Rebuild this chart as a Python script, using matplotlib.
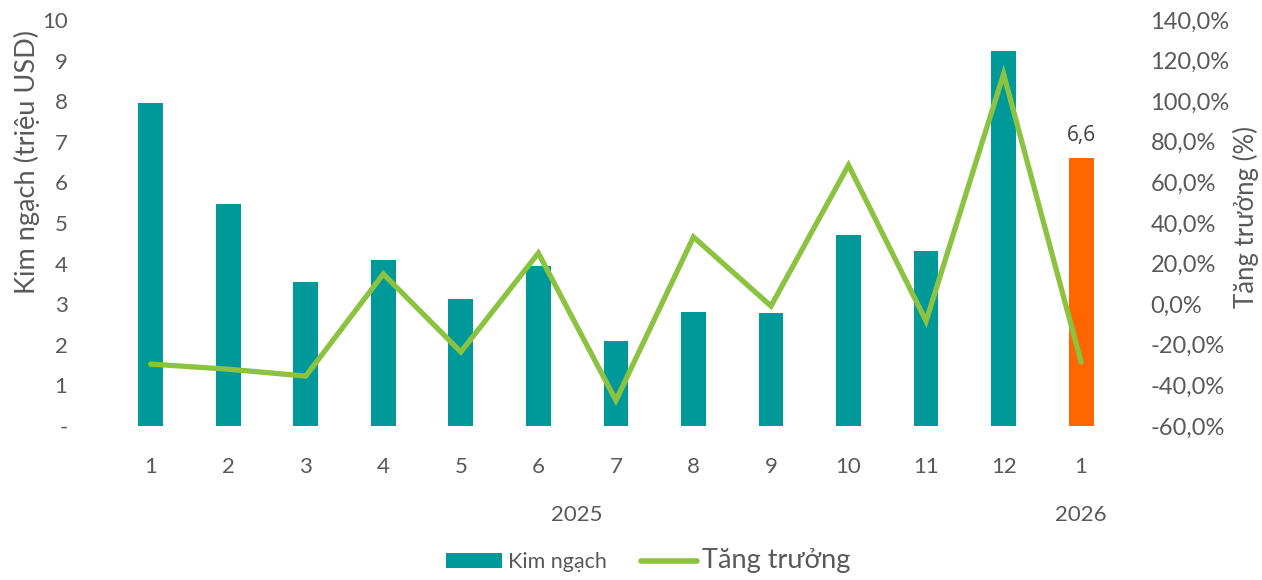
import matplotlib
matplotlib.use("Agg")
import matplotlib.pyplot as plt
import matplotlib.ticker as mticker
from matplotlib.patches import Patch
from matplotlib.lines import Line2D

months = ["1", "2", "3", "4", "5", "6", "7", "8", "9", "10", "11", "12", "1"]
years = ["2025", "2026"]
kim_ngach = [7.96, 5.47, 3.55, 4.09, 3.13, 3.94, 2.09, 2.81, 2.78, 4.70, 4.31, 9.24, 6.6]
tang_truong = [-29.5, -32.0, -35.4, 14.9, -23.5, 25.2, -47.4, 33.1, -0.9, 68.5, -8.3, 113.4, -28.5]

TEAL = "#009999"
ORANGE = "#FF6600"
GREEN = "#8BC240"
GREY = "#595959"
FONT = ["Lato", "DejaVu Sans"]

plt.rcParams["font.family"] = FONT

fig = plt.figure(figsize=(12.62, 5.8), dpi=100)
ax = fig.add_axes([0.0887, 0.2655, 0.7987, 0.70])
ax2 = ax.twinx()

x = list(range(len(months)))
colors = [TEAL] * (len(months) - 1) + [ORANGE]
ax.bar(x, kim_ngach, width=0.32, color=colors, zorder=2)
ax.set_xlim(-0.5, len(months) - 0.5)
ax.set_ylim(0, 10)
ax.yaxis.set_major_locator(mticker.MultipleLocator(1))
ax.yaxis.set_major_formatter(mticker.FuncFormatter(lambda v, p: "-" if abs(v) < 1e-9 else f"{v:.0f}"))
ax.set_xticks(x)
ax.set_xticklabels(months)

ax2.plot(x, tang_truong, color=GREEN, lw=3.8, solid_capstyle="round", solid_joinstyle="miter", zorder=3)
ax2.set_ylim(-60, 140)
ax2.yaxis.set_major_locator(mticker.MultipleLocator(20))
ax2.yaxis.set_major_formatter(mticker.FuncFormatter(lambda v, p: f"{v:.1f}%".replace(".", ",")))

for a in (ax, ax2):
    for s in a.spines.values():
        s.set_visible(False)
    a.tick_params(length=0, labelsize=16, colors=GREY)
ax.tick_params(axis="x", pad=22)
ax.tick_params(axis="y", pad=32)
ax2.tick_params(axis="y", pad=22, labelsize=17)

ax.set_ylabel("Kim ngạch (triệu USD)", fontsize=19.5, color=GREY)
ax.yaxis.set_label_coords(-0.0714, 0.65)
ax2.set_ylabel("Tăng trưởng (%)", fontsize=18.5, color=GREY)
ax2.yaxis.set_label_coords(1.112, 0.515)

# value label on last bar
ax.text(x[-1], kim_ngach[-1] + 0.3, f"{kim_ngach[-1]:.1f}".replace(".", ","), ha="center", va="bottom",
        fontsize=15, color="#404040", family=["Open Sans", "DejaVu Sans"])

# year labels
ax.annotate(years[0], xy=((x[0] + x[11]) / 2, 0), xycoords=("data", "axes fraction"),
            xytext=(0, -89), textcoords="offset pixels", ha="center", va="center",
            fontsize=16, color=GREY)
ax.annotate(years[1], xy=(x[12], 0), xycoords=("data", "axes fraction"),
            xytext=(0, -89), textcoords="offset pixels", ha="center", va="center",
            fontsize=16, color=GREY)

handles = [Patch(facecolor=TEAL, edgecolor="none"), Line2D([0], [0], color=GREEN, lw=4, solid_capstyle="round")]
leg = fig.legend(handles, ["Kim ngạch", "Tăng trưởng"], loc="lower center",
                 bbox_to_anchor=(0.514, -0.022), ncol=2, frameon=False,
                 handlelength=2.6, handleheight=0.7, handletextpad=0.25, columnspacing=1.6,
                 fontsize=15.5)
for t, fs in zip(leg.get_texts(), [15.5, 19.5]):
    t.set_color(GREY)
    t.set_fontsize(fs)

fig.savefig("out.png", dpi=100)
